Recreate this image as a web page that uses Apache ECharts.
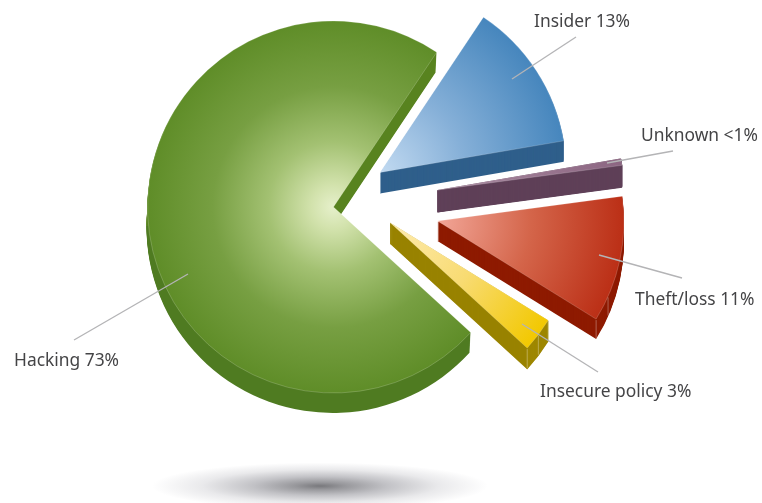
<!DOCTYPE html>
<html>
<head>
<meta charset="utf-8">
<style>
  html, body { margin: 0; padding: 0; background: #fff; }
  #chart { width: 762px; height: 503px; }
</style>
<script src="https://cdn.jsdelivr.net/npm/echarts@6/dist/echarts.min.js"></script>
</head>
<body>
<div id="chart"></div>
<script>
// Share of incidents by cause, in the clockwise order the wedges are drawn.
const causes = ['Insider', 'Unknown', 'Theft/loss', 'Insecure policy', 'Hacking'];
const shares = [13, 0.6, 11, 3, 73];
const shareTexts = ['13%', '<1%', '11%', '3%', '73%'];

// Wedge apex on the page, radius, wall height and layer spacing, one per cause.
const apexX = [380, 437.5, 437.5, 390, 333.5];
const apexY = [172.5, 190, 221, 222.5, 207];
const wedgeRadius = [186.5, 186, 186.5, 186, 186];
const wallDepth = [21, 22, 20, 21, 20];
const wallStep = [1, 0.5, 1, 0.5, 1];
// Thin wedges get a stroke on their wall layers so the tip stays solid.
const wallStroke = [0, 1, 0, 0.5, 0];
const FIRST_ANGLE = 56.3;

// Side walls and top-face gradients.
const sideColors = ['#2f5f8b', '#5f4058', '#8e1a00', '#998300', '#4f7b21'];
const topStops = [
  [[0, '#c2daf1'], [0.45, '#86b0d8'], [1, '#4686bd']],
  [[0, '#a98aa0'], [1, '#8c6682']],
  [[0, '#f2a698'], [0.5, '#d4654a'], [1, '#bb2f16']],
  [[0, '#feebb0'], [0.5, '#f8db72'], [1, '#f2c800']],
  [[0, '#e6f0cb'], [0.12, '#d2e2ac'], [0.35, '#a3c172'], [0.65, '#779f42'], [1, '#5f8d28']]
];
// The big wedge's wall leans slightly to the left as it drops.
const sideLean = [0, 0, 0, 0, -1];
// Pale seams on the curved walls, as fractions of each wedge's sweep.
const seams = [[], [], [0.8, 1], [0, 0.5, 1], []];

// Callouts: leader line ends and text anchors.
const leaders = [
  [512, 79, 576, 37],
  [607, 163, 673, 151],
  [599, 255, 682, 278],
  [522, 324, 598, 372],
  [188, 274, 74, 340]
];
const textAnchors = [[534, 22], [641, 136], [635, 300], [540, 392], [14, 361]];

const total = shares.reduce((a, b) => a + b, 0);

function wedge(i, startAngle, cx, cy, itemStyle, z) {
  return {
    type: 'pie',
    silent: true,
    animation: false,
    center: [cx, cy],
    radius: [0, wedgeRadius[i]],
    startAngle,
    clockwise: true,
    z,
    label: { show: false },
    labelLine: { show: false },
    data: [
      { name: causes[i], value: shares[i], itemStyle },
      { name: '', value: total - shares[i], itemStyle: { color: 'rgba(0,0,0,0)' } }
    ]
  };
}

// The flat cut of the big wedge and the rim of the narrow wedge catch a little more light.
function wallPaint(i, startAngle, sweep) {
  if (i === 4) {
    return {
      type: 'linear', x: 0, y: 0, x2: 0, y2: 503, global: true,
      colorStops: [
        { offset: 0, color: '#58831f' }, { offset: 0.45, color: '#58831f' },
        { offset: 0.45, color: sideColors[i] }, { offset: 1, color: sideColors[i] }
      ]
    };
  }
  if (i === 3) {
    const rad = (startAngle - sweep) * Math.PI / 180;
    const corner = (apexX[i] + wedgeRadius[i] * Math.cos(rad)) / 762;
    return {
      type: 'linear', x: 0, y: 0, x2: 762, y2: 0, global: true,
      colorStops: [
        { offset: 0, color: sideColors[i] }, { offset: corner, color: sideColors[i] },
        { offset: corner, color: '#a88f00' }, { offset: 1, color: '#a88f00' }
      ]
    };
  }
  return sideColors[i];
}

const series = [];
const seamLines = [];
let angle = FIRST_ANGLE;
causes.forEach((name, i) => {
  const sweep = shares[i] / total * 360;
  const paint = wallPaint(i, angle, sweep);
  // Stack thin copies of the wedge to build up the wall.
  for (let d = wallDepth[i]; d > 0; d -= wallStep[i]) {
    const lean = sideLean[i] * d / wallDepth[i];
    series.push(wedge(i, angle, apexX[i] + lean, apexY[i] + d, {
      color: paint,
      borderColor: sideColors[i],
      borderWidth: wallStroke[i]
    }, 2));
  }
  series.push(wedge(i, angle, apexX[i], apexY[i], {
    color: {
      type: 'radial', x: apexX[i], y: apexY[i], r: wedgeRadius[i], global: true,
      colorStops: topStops[i].map(([offset, color]) => ({ offset, color }))
    },
    borderColor: 'rgba(255,255,255,0.3)',
    borderWidth: 0.6
  }, 3));
  seams[i].forEach(f => {
    const rad = (angle - sweep * f) * Math.PI / 180;
    const x = apexX[i] + wedgeRadius[i] * Math.cos(rad);
    const y = apexY[i] - wedgeRadius[i] * Math.sin(rad);
    seamLines.push({
      type: 'line', z: 9, silent: true,
      shape: { x1: x, y1: y + 1, x2: x, y2: y + wallDepth[i] - 1 },
      style: { stroke: 'rgba(255,255,255,0.4)', lineWidth: 0.8 }
    });
  });
  angle -= sweep;
});

const graphic = [
  {
    // Soft shadow on the floor beneath the pie.
    type: 'circle', x: 320, y: 486, scaleY: 0.14, z: 1, silent: true,
    shape: { cx: 0, cy: 0, r: 168 },
    style: {
      fill: {
        type: 'radial', x: 0.5, y: 0.5, r: 0.5,
        colorStops: [
          { offset: 0, color: '#78787c' },
          { offset: 0.15, color: '#98989c' },
          { offset: 0.4, color: '#c2c2c6' },
          { offset: 0.7, color: '#e9e9eb' },
          { offset: 1, color: '#ffffff' }
        ]
      }
    }
  },
  ...seamLines
];
causes.forEach((name, i) => {
  const [x1, y1, x2, y2] = leaders[i];
  graphic.push({
    type: 'line', z: 10, silent: true,
    shape: { x1, y1, x2, y2 },
    style: { stroke: '#b4b4b6', lineWidth: 1.3 }
  });
  graphic.push({
    type: 'text', z: 10, silent: true,
    x: textAnchors[i][0], y: textAnchors[i][1],
    style: {
      text: name + ' ' + shareTexts[i],
      fill: '#444446',
      font: '17.4px "Noto Sans", sans-serif',
      textAlign: 'left',
      textVerticalAlign: 'middle'
    }
  });
});

const chart = echarts.init(document.getElementById('chart'), null, { renderer: 'canvas' });
chart.setOption({
  backgroundColor: '#ffffff',
  animation: false,
  tooltip: { show: false },
  legend: { show: false },
  series,
  graphic
});
</script>
</body>
</html>
